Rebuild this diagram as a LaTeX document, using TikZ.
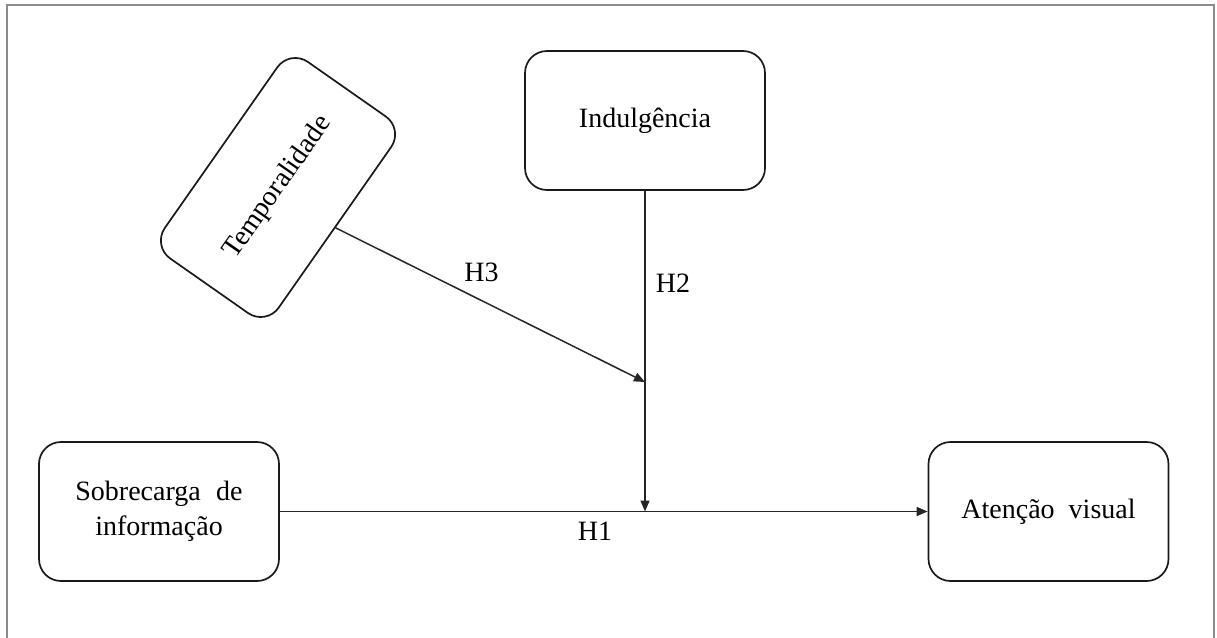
\documentclass[tikz,border=0pt]{standalone}
\usepackage{fontspec}
\setmainfont{Liberation Serif}
\usetikzlibrary{arrows.meta}

\tikzset{
  box/.style={draw=black!90, line width=1.7pt, rounded corners=22pt,
    minimum width=240pt, minimum height=139pt, align=center, inner sep=0pt,
    font=\fontsize{28}{35}\selectfont},
  link/.style={draw=black!85, line width=1.5pt,
    -{Triangle[length=11pt,width=9pt]}},
  hyp/.style={font=\fontsize{28}{34}\selectfont, inner sep=0pt},
  frame/.style={draw=black!45, line width=2pt}
}

\begin{document}
\begin{tikzpicture}[x=1pt, y=-1pt]
  \useasboundingbox (0,0) rectangle (1217,637);

  % outer frame, open at the bottom
  \draw[frame] (6.5,640) -- (6.5,4.5) -- (1213.5,4.5) -- (1213.5,640);

  % constructs
  \node[box] (sob) at (159,511.5) {Sobrecarga\hspace{0.55em}de\\informação};
  \node[box] (ate) at (1048.5,511.5) {Atenção\hspace{0.5em}visual};
  \node[box] (ind) at (645,120.5) {Indulgência};
  \node[box, rotate=55] (tem) at (278,187.5) {Temporalidade};

  % meeting points on the vertical path
  \coordinate (meet) at (ind.south |- sob.east);
  \coordinate (mod) at (ind.south |- 0,382);

  % paths
  \draw[link] (sob.east) -- (ate.west);
  \draw[link] (ind.south) -- (meet);
  \draw[link] (tem.south) -- (mod);

  % hypothesis labels
  \node[hyp] (h1) at (595,531) {H1};
  \node[hyp] (h2) at (673,283) {H2};
  \node[hyp] (h3) at (481.5,272) {H3};
\end{tikzpicture}
\end{document}
